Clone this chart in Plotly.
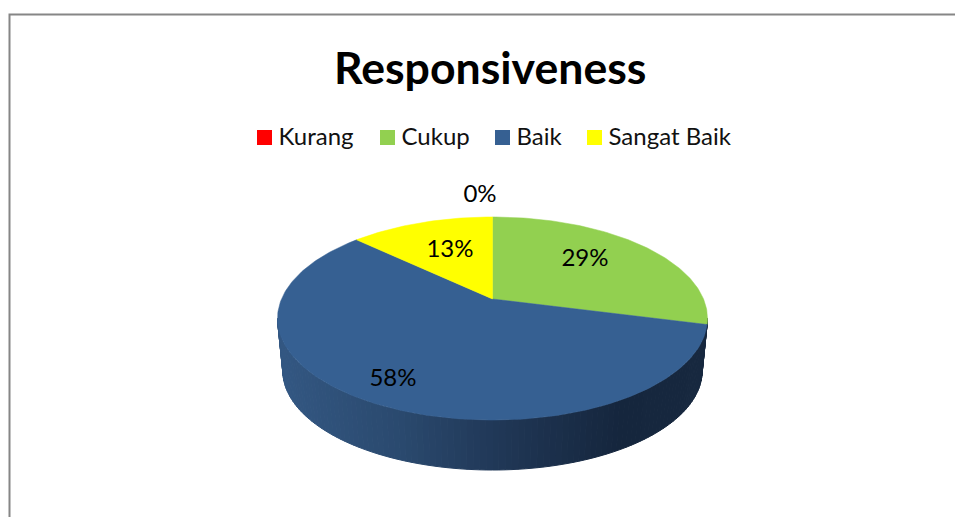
import math
import plotly.graph_objects as go

# --- data ---
categories = ["Kurang", "Cukup", "Baik", "Sangat Baik"]
values = [0, 29, 58, 13]
colors = ["#FF0000", "#92D050", "#366092", "#FFFF00"]
title_text = "Responsiveness"

# --- layout constants (pixel space of the page) ---
W, H = 955, 517
APEX_X, APEX_Y = 492.5, 299
SX, SY, K = 211, 97.8, 0.192      # perspective projection of the disc
WALL_DROP, WALL_SCALE = 53, 0.975
WALL_FROM, WALL_TO = 101, 259
LEGEND_X = [264.5, 387.5, 502.5, 594.5]
LEGEND_Y = 137.5
LEGEND_TEXT_DX, LEGEND_TEXT_DY = 14, 1.5
LABEL_XY = [(480, 196), (585, 260), (393, 380), (450, 251)]
FONT = "Lato, Carlito, Calibri, sans-serif"
WALL_STOPS = [(280, (51, 87, 130)), (400, (42, 73, 110)), (500, (32, 55, 86)),
              (620, (21, 38, 61)), (710, (23, 40, 63))]


def project(theta_deg, r=1.0):
    t = math.radians(theta_deg)
    u, v = r * math.sin(t), r * math.cos(t)
    d = 1 + K * v
    return SX * u / d, SY * v / d


def top_pt(theta):
    x, y = project(theta)
    return APEX_X + x, APEX_Y - y


def low_pt(theta):
    x, y = project(theta)
    return APEX_X + WALL_SCALE * x, APEX_Y + WALL_DROP - WALL_SCALE * y


def wall_color(x):
    if x <= WALL_STOPS[0][0]:
        c = WALL_STOPS[0][1]
    elif x >= WALL_STOPS[-1][0]:
        c = WALL_STOPS[-1][1]
    else:
        for (x0, c0), (x1, c1) in zip(WALL_STOPS, WALL_STOPS[1:]):
            if x0 <= x <= x1:
                f = (x - x0) / (x1 - x0)
                c = tuple(round(a + (b - a) * f) for a, b in zip(c0, c1))
                break
    return "rgb(%d,%d,%d)" % c


fig = go.Figure()
no_hover = dict(hoverinfo="skip", showlegend=False)

# side wall of the disc, drawn as thin shaded strips along the front rim
N = 110
for i in range(N):
    a = WALL_FROM + (WALL_TO - WALL_FROM) * i / N
    b = WALL_FROM + (WALL_TO - WALL_FROM) * (i + 1) / N
    p0, p1 = top_pt(a), top_pt(b)
    q0, q1 = low_pt(a), low_pt(b)
    xs = [p0[0], p1[0], q1[0], q0[0], p0[0]]
    ys = [p0[1], p1[1], q1[1], q0[1], p0[1]]
    col = wall_color((p0[0] + p1[0]) / 2)
    fig.add_trace(go.Scatter(x=xs, y=ys, mode="lines", fill="toself", fillcolor=col,
                             line=dict(color=col, width=1), **no_hover))

# top face: wedges computed from the values
total = sum(values)
start = 0.0
for name, val, col in zip(categories, values, colors):
    sweep = 360 * val / total
    if val > 0:
        steps = max(2, int(sweep))
        rim = [top_pt(start + sweep * j / steps) for j in range(steps + 1)]
        xs = [APEX_X] + [p[0] for p in rim] + [APEX_X]
        ys = [APEX_Y] + [p[1] for p in rim] + [APEX_Y]
        fig.add_trace(go.Scatter(x=xs, y=ys, mode="lines", fill="toself", fillcolor=col,
                                 line=dict(color=col, width=0.5), name=name,
                                 hoverinfo="name", showlegend=False))
    start += sweep

# data labels
fig.add_trace(go.Scatter(
    x=[p[0] for p in LABEL_XY], y=[p[1] for p in LABEL_XY], mode="text",
    text=["%d%%" % v for v in values], textposition="middle center",
    textfont=dict(family=FONT, size=24, color="#000000"), **no_hover))

# legend row: swatches and their names
fig.add_trace(go.Scatter(
    x=LEGEND_X, y=[LEGEND_Y] * 4, mode="markers",
    marker=dict(symbol="square", size=15, color=colors, line=dict(width=0)), **no_hover))
fig.add_trace(go.Scatter(
    x=[x + LEGEND_TEXT_DX for x in LEGEND_X], y=[LEGEND_Y + LEGEND_TEXT_DY] * 4, mode="text",
    text=categories, textposition="middle right",
    textfont=dict(family=FONT, size=24, color="#111111"), **no_hover))

axis = dict(visible=False, showgrid=False, zeroline=False, fixedrange=True)
fig.update_layout(
    width=W, height=H, margin=dict(l=0, r=0, t=0, b=0),
    paper_bgcolor="#FFFFFF", plot_bgcolor="#FFFFFF", showlegend=False,
    xaxis=dict(range=[0, W], **axis),
    yaxis=dict(range=[H, 0], **axis),
    annotations=[dict(x=490, y=66, xref="x", yref="y", text="<b>%s</b>" % title_text,
                      showarrow=False, font=dict(family=FONT, size=44.6, color="#000000"))],
    shapes=[dict(type="rect", xref="x", yref="y", x0=9.5, y0=14.5, x1=W + 20, y1=H + 20,
                 line=dict(color="#868686", width=2), layer="below")],
)
fig.write_html("out.html", config=dict(displayModeBar=False),
               post_script="document.body.style.margin='0';document.documentElement.style.overflow='hidden';")
